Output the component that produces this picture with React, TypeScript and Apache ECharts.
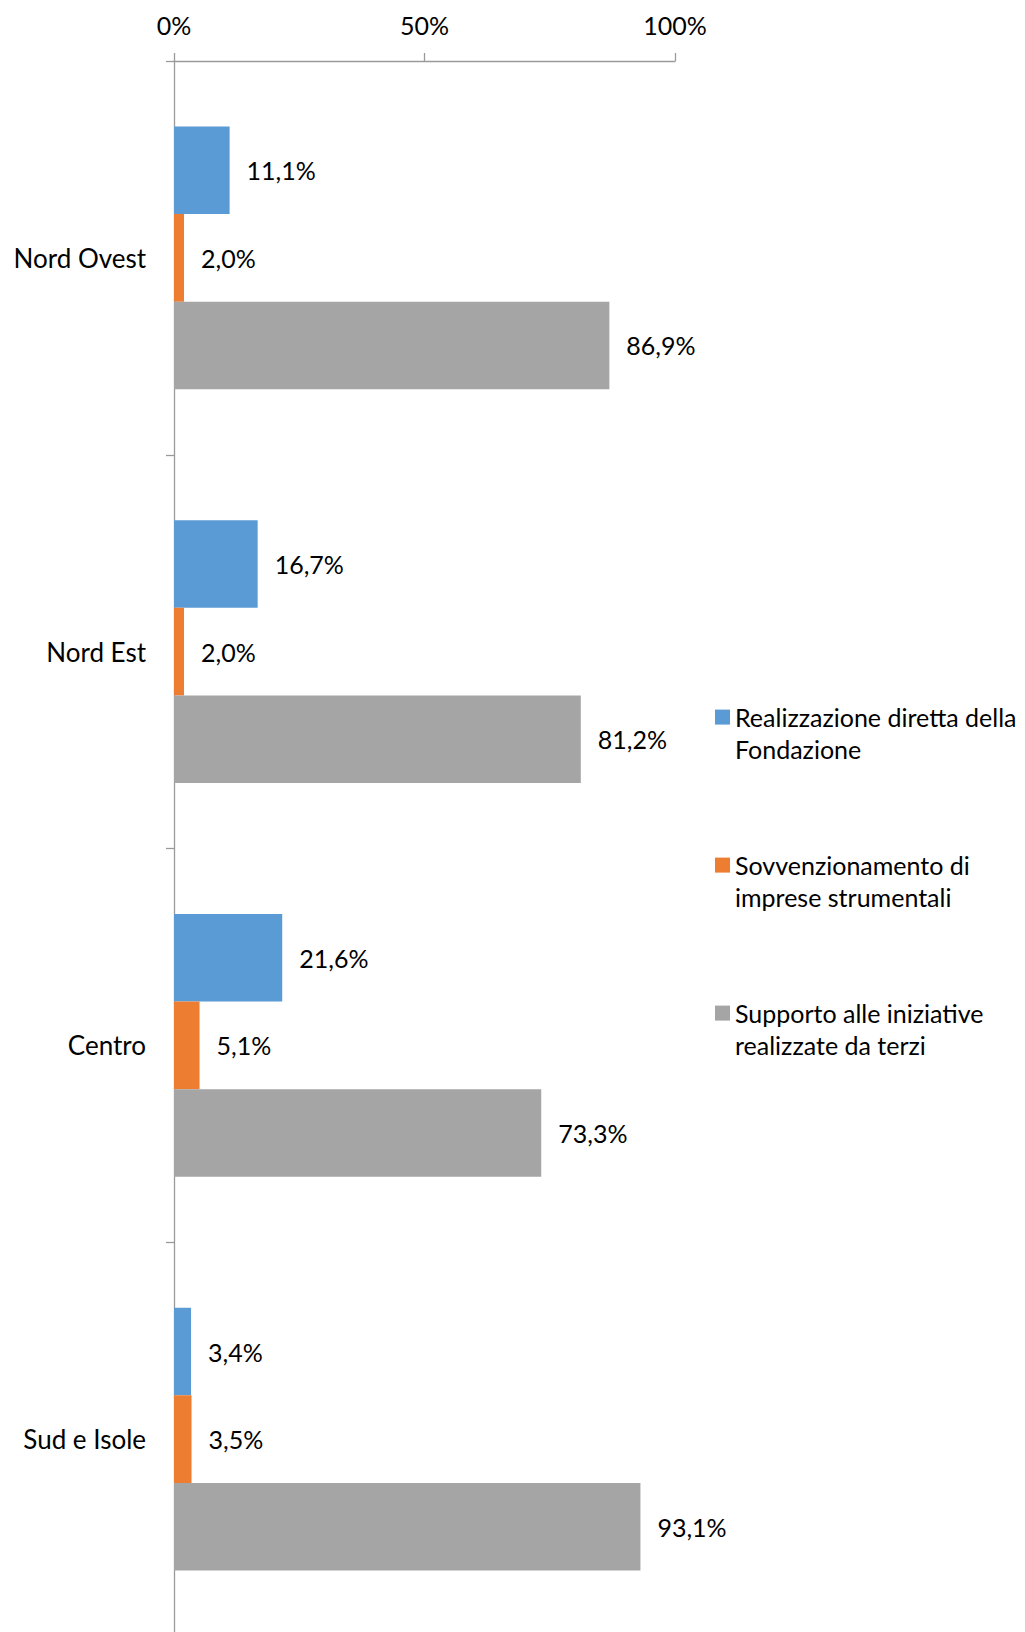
import React, { useEffect, useRef } from "react";
import * as echarts from "echarts";

const categories = ["Nord Ovest", "Nord Est", "Centro", "Sud e Isole"];
const seriesNames = [
  "Realizzazione diretta della Fondazione",
  "Sovvenzionamento di imprese strumentali",
  "Supporto alle iniziative realizzate da terzi",
];
const legendLines: Record<string, string[]> = {
  "Realizzazione diretta della Fondazione": ["Realizzazione diretta della", "Fondazione"],
  "Sovvenzionamento di imprese strumentali": ["Sovvenzionamento di", "imprese strumentali"],
  "Supporto alle iniziative realizzate da terzi": ["Supporto alle iniziative", "realizzate da terzi"],
};
const realizzazione = [11.1, 16.7, 21.6, 3.4];
const sovvenzionamento = [2.0, 2.0, 5.1, 3.5];
const supporto = [86.9, 81.2, 73.3, 93.1];
const colors = ["#5B9BD5", "#ED7D31", "#A5A5A5"];
const xTicks = { min: 0, max: 100, interval: 50 };

const FONT = "Lato";
const FS = 25;
const CFS = 26;
const LFS = 25;
const AXIS_COLOR = "#9A9A9A";
const LH = 32.4;

export default function App() {
  const ref = useRef<HTMLDivElement>(null);
  useEffect(() => {
    if (!ref.current) return;
    const chart = echarts.init(ref.current, undefined, { renderer: "svg" });
    const values = [realizzazione, sovvenzionamento, supporto];
    const fmt = (v: number) => v.toFixed(1).replace(".", ",") + "%";
    chart.setOption({
      animation: false,
      backgroundColor: "#ffffff",
      textStyle: { fontFamily: FONT },
      grid: { left: 174, top: 61, width: 501, height: 1575, containLabel: false },
      legend: {
        orient: "vertical",
        left: 715,
        top: 668.5,
        padding: 0,
        itemWidth: 15,
        itemHeight: 15,
        itemGap: 50.8,
        icon: "rect",
        data: seriesNames,
        formatter: (name: string) => {
          const l = legendLines[name] || [name];
          return "\n" + l.join("\n");
        },
        textStyle: {
          fontFamily: FONT,
          fontSize: LFS,
          color: "#000000",
          lineHeight: LH,
        },
      },
      xAxis: {
        type: "value",
        position: "top",
        min: xTicks.min,
        max: xTicks.max,
        interval: xTicks.interval,
        splitLine: { show: false },
        axisLine: { show: true, lineStyle: { color: AXIS_COLOR, width: 1.3 } },
        axisTick: { show: true, length: 8, lineStyle: { color: AXIS_COLOR, width: 1.3 } },
        axisLabel: {
          formatter: (v: number) => v + "%",
          fontFamily: FONT,
          fontSize: FS,
          color: "#000000",
          margin: 24,
        },
      },
      yAxis: {
        type: "category",
        inverse: true,
        data: categories,
        axisLine: { show: true, lineStyle: { color: AXIS_COLOR, width: 1.3 } },
        axisTick: { show: true, length: 8, lineStyle: { color: AXIS_COLOR, width: 1.3 } },
        axisLabel: {
          fontFamily: FONT,
          fontSize: CFS,
          color: "#000000",
          margin: 28,
        },
        splitLine: { show: false },
      },
      series: seriesNames.map((name, i) => ({
        name,
        type: "bar",
        data: values[i],
        barGap: "0%",
        barCategoryGap: "33.3%",
        itemStyle: { color: colors[i] },
        label: {
          show: true,
          position: "right",
          distance: 17,
          formatter: (p: any) => fmt(p.value),
          fontFamily: FONT,
          fontSize: FS,
          color: "#000000",
        },
      })),
    });
    return () => chart.dispose();
  }, []);
  return (
    <div
      style={{
        position: "absolute",
        left: 0,
        top: 0,
        width: 1025,
        height: 1632,
        overflow: "hidden",
      }}
    >
      <div ref={ref} style={{ width: 1025, height: 1660 }} />
    </div>
  );
}
